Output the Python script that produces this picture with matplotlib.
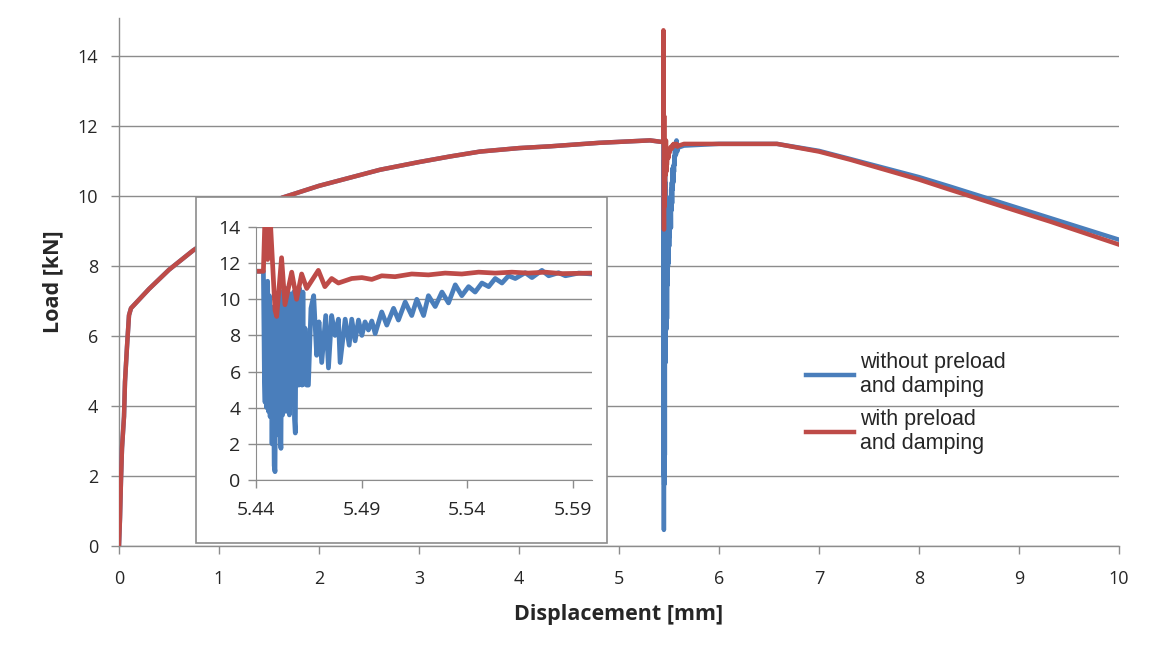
import matplotlib
matplotlib.use("Agg")
import matplotlib.pyplot as plt
from matplotlib.patches import Rectangle

# ---- data ----
# loading branch, identical for both runs up to the impact at ~5.44 mm
disp_pre = [0.0, 0.01, 0.02, 0.03, 0.05, 0.06, 0.08, 0.10, 0.12, 0.3, 0.5, 0.74,
            1.0, 1.3, 1.63, 2.0, 2.61, 3.0, 3.31, 3.61, 4.0, 4.31, 4.8, 5.31, 5.4435]
load_pre = [0.0, 0.8, 1.9, 2.8, 3.7, 4.7, 5.7, 6.6, 6.8, 7.35, 7.9, 8.45,
            8.95, 9.45, 9.96, 10.3, 10.76, 10.98, 11.14, 11.28, 11.38, 11.43, 11.53, 11.6, 11.55]

# with preload and damping (red) after the impact
disp_red = [5.4443, 5.4455, 5.4468, 5.4490, 5.4498, 5.4521, 5.4537, 5.4569, 5.4592,
            5.4616, 5.4640, 5.4695, 5.4726, 5.4758, 5.4790, 5.4853, 5.4901, 5.4948,
            5.4995, 5.5058, 5.5137, 5.5216, 5.5295, 5.5374, 5.5453, 5.5532, 5.5611,
            5.5690, 5.5769, 5.5848, 5.5990, 5.65, 6.0, 6.58, 7.0, 7.31, 8.0, 8.31,
            9.0, 9.31, 10.0]
load_red = [14.75, 12.2, 14.3, 9.4, 9.05, 12.3, 9.7, 11.5, 10.0,
            11.4, 10.6, 11.6, 10.7, 11.15, 10.9, 11.15, 11.2, 11.1,
            11.3, 11.25, 11.4, 11.35, 11.45, 11.4, 11.5, 11.45, 11.5,
            11.45, 11.5, 11.42, 11.45, 11.5, 11.5, 11.5, 11.28, 11.05, 10.48, 10.19,
            9.56, 9.28, 8.62]

# without preload and damping (blue) after the impact
disp_blue = [5.4440, 5.4443, 5.4447, 5.4451, 5.4455, 5.4459, 5.4463, 5.4467, 5.4471,
             5.4476, 5.4481, 5.4486, 5.4490, 5.4494, 5.4498, 5.4502, 5.4506, 5.4510,
             5.4514, 5.4518, 5.4522, 5.4526, 5.4530, 5.4534, 5.4538, 5.4542, 5.4546,
             5.4550, 5.4554, 5.4558, 5.4562, 5.4566, 5.4570, 5.4574, 5.4578, 5.4582,
             5.4586, 5.4590, 5.4594, 5.4598, 5.4602, 5.4606, 5.4610, 5.4614, 5.4618,
             5.4622, 5.4626, 5.4632, 5.4640, 5.4648, 5.4660, 5.4673, 5.4687, 5.4698,
             5.4711, 5.4730, 5.4743, 5.4758, 5.4774, 5.4790, 5.4798, 5.4822, 5.4841,
             5.4853, 5.4869, 5.4885, 5.4901, 5.4916, 5.4932, 5.4948, 5.4964, 5.4995,
             5.5019, 5.5051, 5.5074, 5.5106, 5.5137, 5.5161, 5.5193, 5.5216, 5.5248,
             5.5280, 5.5311, 5.5343, 5.5374, 5.5406, 5.5437, 5.5469, 5.5501, 5.5532,
             5.5564, 5.5595, 5.5627, 5.5674, 5.5706, 5.5753, 5.5785, 5.5832, 5.5864,
             5.5927, 5.5990, 5.65, 6.0, 6.58, 7.0, 7.31, 8.0, 8.31, 9.0, 9.31, 10.0]
load_blue = [5.5, 4.3, 10.8, 4.0, 11.0, 3.8, 10.2, 3.5, 9.6,
             2.0, 9.2, 0.8, 0.46, 8.9, 2.5, 9.8, 3.4, 10.4,
             2.6, 1.75, 9.7, 3.6, 10.5, 4.0, 9.9, 3.8, 10.6,
             4.4, 9.8, 3.6, 10.3, 4.6, 9.6, 4.2, 10.4, 3.4,
             2.6, 10.2, 5.3, 9.4, 5.25, 10.6, 5.4, 9.0, 5.25,
             10.4, 5.3, 8.4, 5.25, 5.25, 9.5, 10.2, 6.9, 8.75,
             6.5, 9.1, 6.2, 9.1, 8.0, 8.9, 6.5, 8.9, 7.46,
             8.9, 7.7, 8.85, 8.0, 8.75, 8.3, 8.8, 8.1, 9.3,
             8.57, 9.5, 8.85, 9.85, 9.1, 10.0, 9.1, 10.2, 9.6,
             10.4, 9.8, 10.8, 10.2, 10.7, 10.4, 10.9, 10.7, 11.15,
             10.9, 11.3, 11.15, 11.47, 11.2, 11.6, 11.3, 11.47, 11.3,
             11.45, 11.4, 11.45, 11.5, 11.5, 11.3, 11.07, 10.55, 10.28, 9.66, 9.38, 8.76]

main_xticks = list(range(0, 11))
main_yticks = list(range(0, 15, 2))
inset_xticks = [5.44, 5.49, 5.54, 5.59]
inset_yticks = list(range(0, 15, 2))

BLUE = "#4a7ebb"
RED = "#be4b48"
GRID = "#8c8c8c"
TXT = "#262626"

plt.rcParams["font.family"] = ["Open Sans", "DejaVu Sans"]

fig = plt.figure(figsize=(11.53, 6.55), dpi=100)
fig.patch.set_facecolor("white")

ax = fig.add_axes([119 / 1153, 109 / 655, 1000 / 1153, 528 / 655])
ax.plot(disp_pre + disp_blue, load_pre + load_blue, color=BLUE, lw=3.2,
        label="without preload\nand damping", solid_joinstyle="round", zorder=3)
ax.plot(disp_pre + disp_red, load_pre + load_red, color=RED, lw=3.2,
        label="with preload\nand damping", solid_joinstyle="round", zorder=4)
ax.set_xlim(0, 10)
ax.set_ylim(0, 15.1)
ax.set_xticks(main_xticks)
ax.set_yticks(main_yticks)
ax.grid(axis="y", color=GRID, lw=1.0)
ax.set_axisbelow(True)
for s in ["top", "right"]:
    ax.spines[s].set_visible(False)
for s in ["left", "bottom"]:
    ax.spines[s].set_color(GRID)
    ax.spines[s].set_linewidth(1.0)
ax.tick_params(colors=GRID, labelcolor=TXT, labelsize=13, length=6, width=1.0)
ax.tick_params(axis="x", pad=11)
ax.tick_params(axis="y", pad=9)
ax.set_xlabel("Displacement [mm]", fontsize=15.5, fontweight="bold", color=TXT, labelpad=12)
ax.set_ylabel("Load [kN]", fontsize=15.5, fontweight="bold", color=TXT, labelpad=10)

leg = ax.legend(loc="upper left", bbox_to_anchor=(0.668, 0.405), frameon=False,
                handlelength=2.2, handletextpad=0.3, labelspacing=0.55,
                prop={"family": ["Liberation Sans"], "size": 15.5})
for t in leg.get_texts():
    t.set_color(TXT)

# white frame behind the zoomed view
frame = Rectangle((196 / 1153, 112 / 655), 411 / 1153, 346 / 655, transform=fig.transFigure,
                  facecolor="white", edgecolor=GRID, lw=1.2, zorder=5)
fig.patches.append(frame)

axi = fig.add_axes([256 / 1153, 175 / 655, 336 / 1153, 253 / 655], zorder=6)
axi.patch.set_alpha(0)
axi.plot(disp_pre + disp_blue, load_pre + load_blue, color=BLUE, lw=3.4, solid_joinstyle="round")
axi.plot(disp_pre + disp_red, load_pre + load_red, color=RED, lw=3.4, solid_joinstyle="round")
axi.set_xlim(5.44, 5.599)
axi.set_ylim(0, 14)
axi.set_xticks(inset_xticks)
axi.set_xticklabels([f"{v:.2f}" for v in inset_xticks])
axi.set_yticks(inset_yticks)
axi.grid(axis="y", color=GRID, lw=1.0)
axi.set_axisbelow(True)
for s in ["top", "right"]:
    axi.spines[s].set_visible(False)
for s in ["left", "bottom"]:
    axi.spines[s].set_color(GRID)
axi.tick_params(colors=GRID, labelcolor=TXT, labelsize=14, length=6, width=1.0)
axi.tick_params(axis="x", pad=9)
axi.tick_params(axis="y", pad=5)

fig.savefig("out.png", dpi=100)
